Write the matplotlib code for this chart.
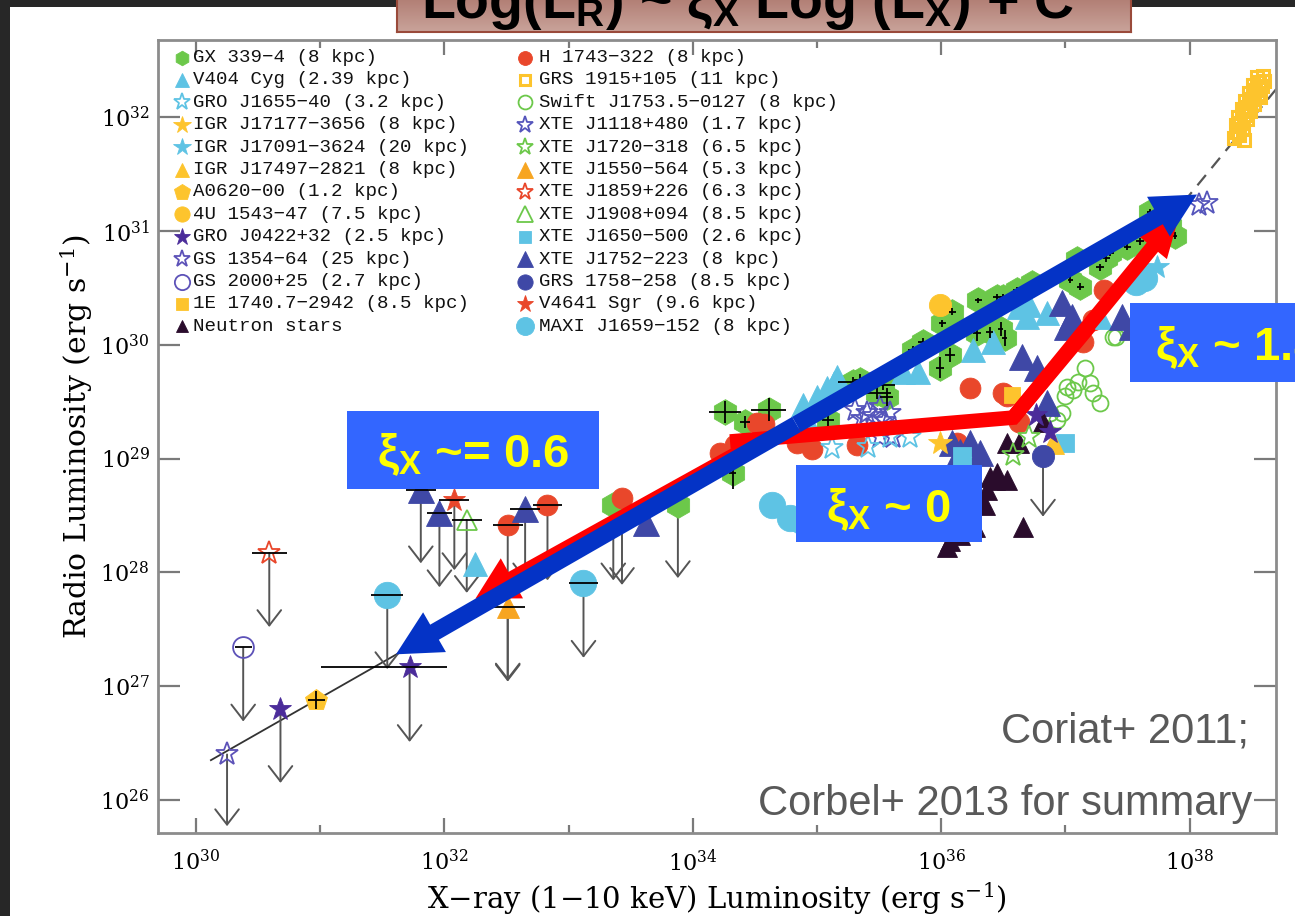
import numpy as np
import matplotlib
matplotlib.use("Agg")
import matplotlib.pyplot as plt
from matplotlib.patches import Rectangle, FancyArrowPatch
from matplotlib.lines import Line2D
from matplotlib.ticker import FixedLocator, NullLocator, NullFormatter, FuncFormatter
from matplotlib.colors import LinearSegmentedColormap

plt.rcParams['font.family'] = ['DejaVu Serif']
plt.rcParams['mathtext.default'] = 'regular'

# ---------------------------------------------------------------
# Data: log10 luminosities (erg/s); x = X-ray (1-10 keV), y = radio
# ---------------------------------------------------------------
gx339_lx = [34.26, 34.32, 34.42, 34.61, 35.09, 35.29, 35.35, 35.48, 35.53, 35.56,
            35.77, 35.85, 35.99, 36.07, 36.01, 36.09, 36.30, 36.45, 36.29, 36.39,
            36.51, 36.50, 36.61, 36.73, 36.48, 37.04, 37.12, 37.09, 37.28, 37.33,
            37.50, 37.68, 37.84, 37.88, 37.36, 37.60, 37.76]
gx339_lr = [29.41, 28.87, 29.32, 29.43, 29.34, 29.67, 29.69, 29.58, 29.65, 29.54,
            29.95, 30.02, 29.80, 29.91, 30.19, 30.29, 30.39, 30.42, 30.10, 30.11,
            30.06, 30.42, 30.48, 30.54, 30.14, 30.57, 30.51, 30.75, 30.68, 30.76,
            30.86, 31.17, 31.04, 30.96, 30.81, 30.91, 31.05]
gx339_xerr = [0.13, 0.03, 0.04, 0.14, 0.05, 0.12, 0.05, 0.12, 0.10, 0.05,
              0.04, 0.04, 0.03, 0.04, 0.03, 0.03, 0.03, 0.03, 0.03, 0.03,
              0.02, 0.03, 0.03, 0.03, 0.02, 0.02, 0.03, 0.03, 0.03, 0.03,
              0.03, 0.02, 0.03, 0.02, 0.03, 0.03, 0.02]
gx339_yerr = [0.10, 0.14, 0.05, 0.10, 0.08, 0.05, 0.05, 0.06, 0.05, 0.08,
              0.04, 0.04, 0.09, 0.06, 0.03, 0.03, 0.02, 0.03, 0.07, 0.05,
              0.07, 0.03, 0.03, 0.03, 0.06, 0.03, 0.03, 0.02, 0.03, 0.03,
              0.03, 0.02, 0.02, 0.03, 0.03, 0.03, 0.03]

h1743_lx = [34.22, 34.34, 34.52, 34.57, 34.84, 34.96, 35.32, 36.13, 36.23, 36.50,
            36.53, 36.63, 37.14, 37.22, 37.31]
h1743_lr = [29.05, 29.12, 29.31, 29.30, 29.14, 29.08, 29.12, 29.14, 29.62, 29.58,
            29.55, 29.32, 30.02, 30.22, 30.48]

v404_lx = [32.25, 34.89, 34.92, 35.00, 35.08, 35.14, 35.16, 35.69, 35.81, 36.26,
           36.42, 36.63, 36.71, 36.69, 36.85, 37.28]
v404_lr = [28.07, 29.47, 29.34, 29.54, 29.62, 29.66, 29.72, 29.76, 29.76, 29.95,
           30.02, 30.33, 30.35, 30.24, 30.28, 30.24]

gro1655_lx = [35.12, 35.41, 35.75, 35.59]
gro1655_lr = [29.09, 29.10, 29.19, 29.19]
igr17177_lx, igr17177_lr = [35.99], [29.14]
igr17091_lx, igr17091_lr = [37.74], [30.68]
igr17497_lx, igr17497_lr = [36.90], [29.14]
a0620_lx, a0620_lr = [30.97], [26.88]
a0620_xerr, a0620_yerr = [0.07], [0.08]
u1543_lx, u1543_lr = [35.99], [30.35]
gro0422_lx, gro0422_lr = [36.76, 36.88], [29.38, 29.23]
e1740_lx, e1740_lr = [36.57], [29.56]

ns_lx = [36.53, 36.63, 36.82, 36.66, 36.39, 36.45, 36.53, 36.37, 36.11, 36.19,
         36.29, 36.15, 36.27, 36.07, 36.22, 36.35, 36.43, 36.05]
ns_lr = [29.14, 29.14, 29.32, 28.40, 28.84, 28.87, 28.81, 28.72, 28.64, 28.55,
         28.68, 28.33, 28.40, 28.28, 28.45, 28.59, 28.81, 28.22]

grs1915_lx = [38.36, 38.38, 38.40, 38.37, 38.41, 38.43, 38.39, 38.44, 38.46, 38.42,
              38.47, 38.49, 38.45, 38.50, 38.52, 38.48, 38.53, 38.55, 38.51, 38.56,
              38.58, 38.54, 38.59, 38.57, 38.44, 38.60]
grs1915_lr = [31.82, 31.87, 31.84, 31.93, 31.95, 31.90, 32.00, 32.02, 31.98, 32.07,
              32.09, 32.05, 32.14, 32.16, 32.12, 32.21, 32.24, 32.20, 32.28, 32.31,
              32.27, 32.35, 32.36, 32.18, 31.80, 32.32]

swift1753_lx = [37.38, 37.16, 37.20, 37.28, 37.22, 37.10, 37.01, 36.97, 36.88, 37.06,
                36.93, 37.41, 37.00]
swift1753_lr = [30.07, 29.80, 29.66, 29.49, 29.58, 29.67, 29.63, 29.40, 29.40, 29.60,
                29.34, 30.07, 29.55]

xte1118_lx = [35.31, 35.40, 35.51, 35.59, 35.45, 35.61, 35.51, 35.36, 35.55, 38.08, 38.14]
xte1118_lr = [29.43, 29.40, 29.45, 29.40, 29.37, 29.19, 29.19, 29.35, 29.33, 31.23, 31.25]
xte1720_lx, xte1720_lr = [36.71, 36.58], [29.19, 29.03]
xte1650_lx, xte1650_lr = [37.00, 36.17], [29.14, 29.02]

xte1752_lx = [33.62, 36.09, 36.23, 36.31, 36.15, 36.65, 36.77, 36.85, 36.97, 37.05,
              37.01, 37.46, 37.54]
xte1752_lr = [28.43, 29.14, 29.14, 29.05, 29.06, 29.89, 29.80, 29.49, 30.37, 30.24,
              30.16, 30.24, 30.16]

maxi1659_lx = [34.64, 34.78, 34.88, 37.57, 37.63]
maxi1659_lr = [28.59, 28.48, 28.45, 30.55, 30.59]

# Upper limits: source, log Lx, log Lr, length of the arrow (dex),
# half-widths of the horizontal bar (dex, left / right)
ul_src = ['GS1354', 'GRO0422', 'GS2000', 'XTE1859', 'MAXI1659', 'GRO0422', 'XTE1752',
          'XTE1752', 'V4641', 'XTE1908', 'H1743', 'XTE1752', 'H1743', 'XTE1550',
          'MAXI1659', 'GX339', 'H1743', 'GX339', 'GRS1758']
ul_lx = [30.25, 30.68, 30.38, 30.59, 31.54, 31.72, 31.81, 31.96, 32.08, 32.18,
         32.51, 32.65, 32.83, 32.51, 33.12, 33.36, 33.43, 33.88, 36.82]
ul_lr = [26.40, 26.80, 27.34, 28.17, 27.80, 27.17, 28.72, 28.52, 28.64, 28.46,
         28.42, 28.56, 28.59, 27.70, 27.91, 28.59, 28.65, 28.59, 29.02]
ul_drop = [0.63, 0.65, 0.65, 0.65, 0.65, 0.66, 0.64, 0.65, 0.62, 0.64,
           1.37, 0.63, 0.66, 0.66, 0.66, 0.66, 0.76, 0.64, 0.53]
ul_xlo = [0.0, 0.0, 0.07, 0.14, 0.13, 0.71, 0.12, 0.10, 0.12, 0.12,
          0.12, 0.12, 0.12, 0.14, 0.12, 0.0, 0.0, 0.0, 0.0]
ul_xhi = [0.0, 0.0, 0.07, 0.14, 0.13, 0.30, 0.12, 0.10, 0.12, 0.12,
          0.12, 0.12, 0.12, 0.14, 0.12, 0.0, 0.0, 0.0, 0.0]

# Correlation lines
fit_lx, fit_lr = [30.12, 32.0], [26.35, 27.52]
steep_lx, steep_lr = [37.95, 38.70], [31.25, 32.25]

# Hand-drawn tracks
blue_lx, blue_lr = [31.61, 38.06], [27.28, 31.32]
red_low_lx, red_low_lr = [34.58, 32.25], [29.18, 27.77]
red_path_lx = [34.30, 36.58, 37.20]
red_path_lr = [29.15, 29.36, 30.17]
red_tip_lx, red_tip_lr = 37.92, 31.15

LEFT = ['GX339', 'V404', 'GRO1655', 'IGR17177', 'IGR17091', 'IGR17497', 'A0620',
        'U1543', 'GRO0422', 'GS1354', 'GS2000', 'E1740', 'NS']
RIGHT = ['H1743', 'GRS1915', 'SWIFT1753', 'XTE1118', 'XTE1720', 'XTE1550', 'XTE1859',
         'XTE1908', 'XTE1650', 'XTE1752', 'GRS1758', 'V4641', 'MAXI1659']
LABEL = {
    'GX339': 'GX 339\u22124 (8 kpc)', 'V404': 'V404 Cyg (2.39 kpc)',
    'GRO1655': 'GRO J1655\u221240 (3.2 kpc)', 'IGR17177': 'IGR J17177\u22123656 (8 kpc)',
    'IGR17091': 'IGR J17091\u22123624 (20 kpc)', 'IGR17497': 'IGR J17497\u22122821 (8 kpc)',
    'A0620': 'A0620\u221200 (1.2 kpc)', 'U1543': '4U 1543\u221247 (7.5 kpc)',
    'GRO0422': 'GRO J0422+32 (2.5 kpc)', 'GS1354': 'GS 1354\u221264 (25 kpc)',
    'GS2000': 'GS 2000+25 (2.7 kpc)', 'E1740': '1E 1740.7\u22122942 (8.5 kpc)',
    'NS': 'Neutron stars',
    'H1743': 'H 1743\u2212322 (8 kpc)', 'GRS1915': 'GRS 1915+105 (11 kpc)',
    'SWIFT1753': 'Swift J1753.5\u22120127 (8 kpc)', 'XTE1118': 'XTE J1118+480 (1.7 kpc)',
    'XTE1720': 'XTE J1720\u2212318 (6.5 kpc)', 'XTE1550': 'XTE J1550\u2212564 (5.3 kpc)',
    'XTE1859': 'XTE J1859+226 (6.3 kpc)', 'XTE1908': 'XTE J1908+094 (8.5 kpc)',
    'XTE1650': 'XTE J1650\u2212500 (2.6 kpc)', 'XTE1752': 'XTE J1752\u2212223 (8 kpc)',
    'GRS1758': 'GRS 1758\u2212258 (8.5 kpc)', 'V4641': 'V4641 Sgr (9.6 kpc)',
    'MAXI1659': 'MAXI J1659\u2212152 (8 kpc)',
}

# ---------------------------------------------------------------
# Styles: marker, colour, filled, plot size, legend size
# ---------------------------------------------------------------
GREEN, CYAN, GOLD, ORANGE = '#6cc84a', '#5ec3e4', '#fdc42d', '#f7a521'
RED, PURPLE, VIOLET, DKBLUE, NSCOL = '#e9472b', '#4b2c9a', '#5d52b8', '#3f48a6', '#2a0c2c'
STYLE = {
    'GX339': ('h', GREEN, True, 18.5, 10.5), 'V404': ('^', CYAN, True, 17, 10.5),
    'GRO1655': ('*', CYAN, False, 17, 12.5), 'IGR17177': ('*', GOLD, True, 18, 13),
    'IGR17091': ('*', CYAN, True, 18, 13), 'IGR17497': ('^', GOLD, True, 16, 10.5),
    'A0620': ('p', GOLD, True, 16, 12), 'U1543': ('o', GOLD, True, 16, 11),
    'GRO0422': ('*', PURPLE, True, 17, 12.5), 'GS1354': ('*', VIOLET, False, 17, 12.5),
    'GS2000': ('o', VIOLET, False, 15, 11), 'E1740': ('s', GOLD, True, 12, 9),
    'NS': ('^', NSCOL, True, 14, 9),
    'H1743': ('o', RED, True, 15, 10), 'GRS1915': ('s', GOLD, False, 8.5, 7),
    'SWIFT1753': ('o', GREEN, False, 11.5, 10), 'XTE1118': ('*', '#5555bb', False, 17, 12.5),
    'XTE1720': ('*', GREEN, False, 17, 12.5), 'XTE1550': ('^', ORANGE, True, 16, 11),
    'XTE1859': ('*', RED, False, 17, 12.5), 'XTE1908': ('^', GREEN, False, 15, 11),
    'XTE1650': ('s', CYAN, True, 13, 9), 'XTE1752': ('^', DKBLUE, True, 18.5, 11),
    'GRS1758': ('o', DKBLUE, True, 16, 11), 'V4641': ('*', RED, True, 17, 12.5),
    'MAXI1659': ('o', CYAN, True, 19, 13),
}
DETECTIONS = [
    ('GX339', gx339_lx, gx339_lr), ('H1743', h1743_lx, h1743_lr),
    ('SWIFT1753', swift1753_lx, swift1753_lr), ('V404', v404_lx, v404_lr),
    ('XTE1118', xte1118_lx, xte1118_lr), ('GRO1655', gro1655_lx, gro1655_lr),
    ('MAXI1659', maxi1659_lx, maxi1659_lr), ('XTE1752', xte1752_lx, xte1752_lr),
    ('NS', ns_lx, ns_lr), ('XTE1720', xte1720_lx, xte1720_lr),
    ('XTE1650', xte1650_lx, xte1650_lr), ('IGR17177', igr17177_lx, igr17177_lr),
    ('IGR17091', igr17091_lx, igr17091_lr), ('IGR17497', igr17497_lx, igr17497_lr),
    ('A0620', a0620_lx, a0620_lr), ('U1543', u1543_lx, u1543_lr),
    ('GRO0422', gro0422_lx, gro0422_lr), ('E1740', e1740_lx, e1740_lr),
    ('GRS1915', grs1915_lx, grs1915_lr),
]


def dex(v):
    return 10.0 ** np.asarray(v, dtype=float)


def log_err(center, lo, hi):
    c = np.asarray(center, dtype=float)
    return [dex(c) - dex(c - np.asarray(lo)), dex(c + np.asarray(hi)) - dex(c)]


def marker_kw(key, size_index=3):
    m, c, filled, ms, lms = STYLE[key]
    size = ms if size_index == 3 else lms
    if filled:
        return dict(marker=m, ms=size, mfc=c, mec=c, mew=0.6)
    return dict(marker=m, ms=size, mfc='none', mec=c, mew=1.3 if m != 's' else 2.2)


W, H, DPI = 1295, 916, 100


def fx(px):
    return px / W


def fy(py):
    return 1 - py / H


fig = plt.figure(figsize=(W / DPI, H / DPI), dpi=DPI)
fig.patch.set_facecolor('#272727')
fig.add_artist(Rectangle((fx(10), 0), 1, fy(7), transform=fig.transFigure,
                         fc='white', ec='none', zorder=-10))

# ---------------- main axes ----------------
L, R, T, B = 158, 1276, 40, 833
ax = fig.add_axes([fx(L), fy(B), (R - L) / W, (B - T) / H])
ax.set_xscale('log')
ax.set_yscale('log')
ax.set_xlim(dex(29.694), dex(38.696))
ax.set_ylim(dex(25.71), dex(32.678))
for sp in ax.spines.values():
    sp.set_color('#8c8c8c')
    sp.set_linewidth(2)

ax.xaxis.set_major_locator(FixedLocator(dex(np.arange(30, 39, 2))))
ax.xaxis.set_minor_locator(FixedLocator(dex(np.arange(31, 39, 2))))
ax.xaxis.set_minor_formatter(NullFormatter())
ax.yaxis.set_major_locator(FixedLocator(dex(np.arange(26, 33))))
ax.yaxis.set_minor_locator(NullLocator())
fmt = FuncFormatter(lambda v, p: '10$^{%d}$' % round(np.log10(v)))
ax.xaxis.set_major_formatter(fmt)
ax.yaxis.set_major_formatter(fmt)
ax.tick_params(which='both', direction='in', top=True, right=True,
               color='#7a7a7a', labelcolor='black', labelsize=16)
ax.tick_params(axis='x', which='major', length=11, width=1.6, pad=12)
ax.tick_params(axis='x', which='minor', length=6, width=1.6)
ax.tick_params(axis='y', which='major', length=16, width=1.6, pad=6)

ax.set_xlabel('X\u2212ray (1\u221210 keV) Luminosity (erg s$^{-1}$)', fontsize=21, labelpad=3)
ax.set_ylabel('Radio Luminosity (erg s$^{-1}$)', fontsize=21.5, labelpad=4)

# correlation lines
ax.plot(dex(fit_lx), dex(fit_lr), color='#333333', lw=1.3, zorder=2)
ax.plot(dex(steep_lx), dex(steep_lr), color='#555555', lw=1.6, dashes=(6, 4), zorder=2)

# detections
for key, lx, lr in DETECTIONS:
    ax.plot(dex(lx), dex(lr), ls='none', zorder=3, **marker_kw(key))

ax.errorbar(dex(gx339_lx), dex(gx339_lr),
            xerr=log_err(gx339_lx, gx339_xerr, gx339_xerr),
            yerr=log_err(gx339_lr, gx339_yerr, gx339_yerr),
            fmt='none', ecolor='black', elinewidth=1.3, capsize=0, zorder=4)
ax.errorbar(dex(a0620_lx), dex(a0620_lr),
            xerr=log_err(a0620_lx, a0620_xerr, a0620_xerr),
            yerr=log_err(a0620_lr, a0620_yerr, a0620_yerr),
            fmt='none', ecolor='black', elinewidth=1.3, capsize=0, zorder=4)

# upper limits
for key, x, y, d, lo, hi in zip(ul_src, ul_lx, ul_lr, ul_drop, ul_xlo, ul_xhi):
    ax.annotate('', xy=(dex(x), dex(y - d)), xytext=(dex(x), dex(y)),
                arrowprops=dict(arrowstyle='->,head_length=1.1,head_width=0.85',
                                color='#555555', lw=1.4, shrinkA=0, shrinkB=0,
                                mutation_scale=10), zorder=2.5)
    ax.plot(dex([x]), dex([y]), ls='none', zorder=3, **marker_kw(key))
    if lo + hi > 0:
        ax.errorbar(dex([x]), dex([y]), xerr=log_err([x], [lo], [hi]), fmt='none',
                    ecolor='black', elinewidth=1.3, capsize=0, zorder=4)

# hand-drawn tracks: red (broken) and blue (single slope)
RED_W, BLUE_W = 10.5, 12.5
red_kw = dict(color='#ff0000', zorder=6, transform=ax.transData)
ax.add_patch(FancyArrowPatch((dex(red_low_lx[0]), dex(red_low_lr[0])),
                             (dex(red_low_lx[1]), dex(red_low_lr[1])),
                             arrowstyle='simple,head_length=30,head_width=33,tail_width=%g' % RED_W,
                             mutation_scale=1, shrinkA=0, shrinkB=0, lw=0, **red_kw))
ax.plot(dex(red_path_lx), dex(red_path_lr), color='#ff0000', lw=RED_W,
        solid_joinstyle='miter', solid_capstyle='butt', zorder=6)
ax.add_patch(FancyArrowPatch((dex(red_path_lx[-2]), dex(red_path_lr[-2])),
                             (dex(red_tip_lx), dex(red_tip_lr)),
                             arrowstyle='simple,head_length=31,head_width=27,tail_width=%g' % RED_W,
                             mutation_scale=1, shrinkA=0, shrinkB=0, lw=0, **red_kw))

mid_lx, mid_lr = np.mean(blue_lx), np.mean(blue_lr)
for i in range(2):
    ax.add_patch(FancyArrowPatch((dex(mid_lx), dex(mid_lr)), (dex(blue_lx[i]), dex(blue_lr[i])),
                                 arrowstyle='simple,head_length=32,head_width=33,tail_width=%g' % BLUE_W,
                                 mutation_scale=1, shrinkA=0, shrinkB=0, lw=0,
                                 color='#0433c6', zorder=7))

# ---------------- legend ----------------
ROW0, DROW = 57.5, 22.4
for keys, mx, tx in ((LEFT, 182, 193), (RIGHT, 525, 539)):
    for i, key in enumerate(keys):
        yy = ROW0 + i * DROW
        fig.add_artist(Line2D([fx(mx)], [fy(yy)], transform=fig.transFigure, ls='none',
                              **marker_kw(key, size_index=4)))
        fig.text(fx(tx), fy(yy), LABEL[key], family=['Liberation Mono', 'DejaVu Sans Mono'],
                 fontsize=13.8, ha='left', va='center', color='#111111')

# ---------------- references ----------------
ref_kw = dict(family=['Liberation Sans', 'DejaVu Sans'], fontsize=30, color='#595959',
              ha='right', va='baseline', zorder=10)
fig.text(fx(1249), fy(742), 'Coriat+ 2011;', **ref_kw)
fig.text(fx(1252), fy(815), 'Corbel+ 2013 for summary', **ref_kw)

# ---------------- slope labels ----------------
BOX = '#3366ff'
lab_kw = dict(family=['Liberation Sans', 'DejaVu Sans'], fontsize=34, fontweight='bold',
              color='#ffff00', va='baseline', zorder=11)
for (x0, y0, x1, y1) in ((347, 411, 599, 489), (796, 465, 982, 542), (1130, 303, 1320, 382)):
    fig.add_artist(Rectangle((fx(x0), fy(y1)), (x1 - x0) / W, (y1 - y0) / H,
                             transform=fig.transFigure, fc=BOX, ec='none', zorder=10))
fig.text(fx(473), fy(467), '\u03be$_{X}$ ~= 0.6', ha='center', **lab_kw)
fig.text(fx(889), fy(522), '\u03be$_{X}$ ~ 0', ha='center', **lab_kw)
fig.text(fx(1155), fy(360), '\u03be$_{X}$ ~ 1.4', ha='left', **lab_kw)

# ---------------- title banner ----------------
tax = fig.add_axes([fx(397), fy(32), (1131 - 397) / W, 40 / H], zorder=12)
grad = np.linspace(0, 1, 64).reshape(-1, 1)
cmap = LinearSegmentedColormap.from_list('banner', ['#ad776d', '#c9a39a'])
tax.imshow(grad, aspect='auto', cmap=cmap, extent=[0, 1, 0, 1], origin='upper')
tax.set_xlim(0, 1)
tax.set_ylim(0, 1)
tax.set_xticks([])
tax.set_yticks([])
for sp in tax.spines.values():
    sp.set_color('#9a4a3a')
    sp.set_linewidth(1.5)
fig.text(fx(748), fy(18), 'Log(L$_{R}$) ~ \u03be$_{X}$ Log (L$_{X}$) + C',
         family=['Liberation Sans', 'DejaVu Sans'], fontweight='bold', fontsize=40,
         ha='center', va='baseline', color='black', zorder=13)

fig.savefig('out.png', dpi=DPI, facecolor=fig.get_facecolor())
